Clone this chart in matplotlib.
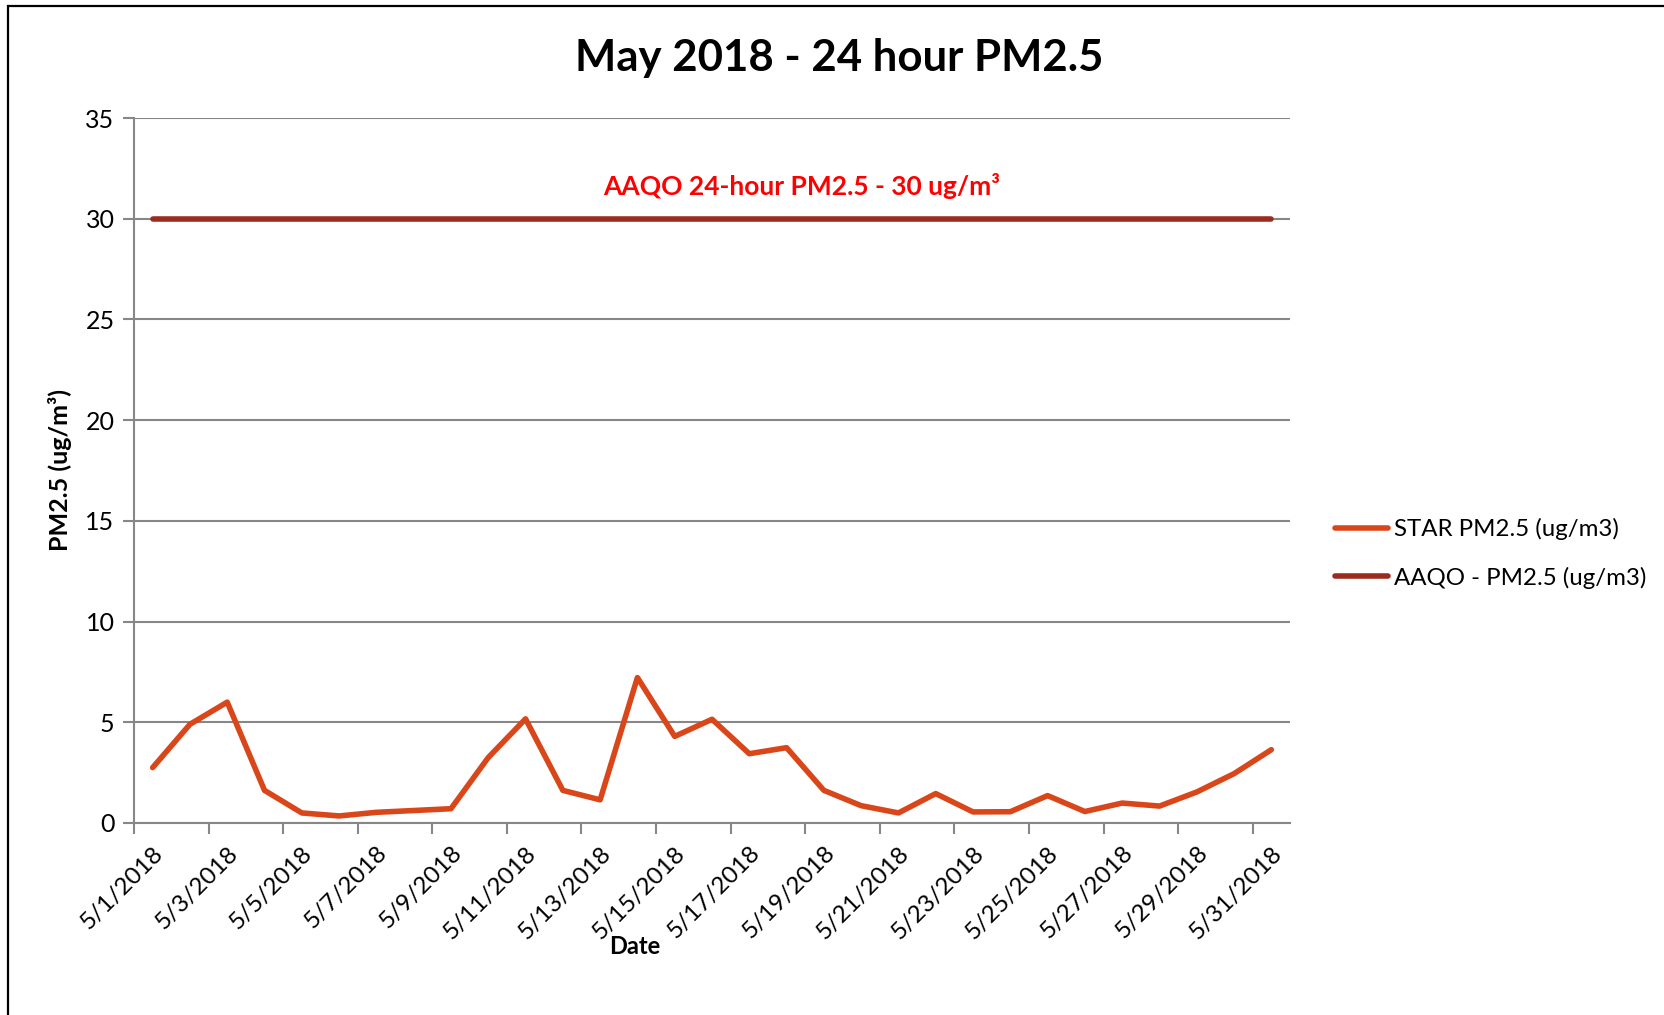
import matplotlib
matplotlib.use('Agg')
import matplotlib.pyplot as plt
from matplotlib.patches import Rectangle

plt.rcParams['font.family'] = ['Lato', 'DejaVu Sans']

# Données (mai 2018)
jours = [f'5/{d}/2018' for d in range(1, 32)]
star_pm25 = [2.75, 4.9, 6.0, 1.62, 0.5, 0.35, 0.53, 0.62, 0.71, 3.25, 5.17,
             1.62, 1.15, 7.22, 4.3, 5.15, 3.44, 3.74, 1.62, 0.86, 0.5, 1.46,
             0.55, 0.56, 1.36, 0.57, 0.99, 0.84, 1.54, 2.45, 3.64]
aaqo_pm25 = [30] * 31
y_ticks = [0, 5, 10, 15, 20, 25, 30, 35]

grid_col = '#878787'

fig = plt.figure(figsize=(16.65, 10.15), dpi=100)
ax = fig.add_axes([134 / 1665, 1 - 823 / 1015, (1290 - 134) / 1665, (823 - 118) / 1015])

x = list(range(len(jours)))
ax.plot(x, star_pm25, color='#D9461A', lw=4, solid_joinstyle='round',
        solid_capstyle='round', label='STAR PM2.5 (ug/m3)', zorder=3)
ax.plot(x, aaqo_pm25, color='#9B2B1F', lw=4, solid_capstyle='round',
        label='AAQO - PM2.5 (ug/m3)', zorder=3)

ax.set_xlim(-0.5, 30.5)
ax.set_ylim(0, 35)
ax.set_yticks(y_ticks)
ax.yaxis.grid(True, color=grid_col, lw=1.5)
ax.set_axisbelow(True)

# ticks aux limites de catégories, étiquettes au centre
ax.set_xticks([i - 0.5 for i in range(0, 31, 2)])
ax.set_xticklabels([])
ax.set_xticks(x[::2], minor=True)
ax.set_xticklabels(jours[::2], minor=True, rotation=45, ha='right',
                   va='top', rotation_mode='anchor', fontsize=17.5)
ax.tick_params(axis='x', which='minor', length=0, pad=14)
ax.tick_params(axis='x', which='major', length=8, width=1.5, color=grid_col)
ax.tick_params(axis='y', length=8, width=1.5, color=grid_col, labelsize=18, pad=6)

for s in ['top', 'right']:
    ax.spines[s].set_visible(False)
for s in ['left', 'bottom']:
    ax.spines[s].set_color(grid_col)
    ax.spines[s].set_linewidth(1.5)

fig.text(839 / 1665, 1 - 58 / 1015, 'May 2018 - 24 hour PM2.5', ha='center',
         va='center', fontsize=31.5, fontweight='bold')
fig.text(0.036, 1 - 470 / 1015, 'PM2.5 (ug/m³)', rotation=90, ha='center',
         va='center', fontsize=18, fontweight='bold')
fig.text(635 / 1665, 1 - 947 / 1015, 'Date', ha='center', va='center',
         fontsize=17, fontweight='bold')

fig.text(802 / 1665, 1 - 186 / 1015, 'AAQO 24-hour PM2.5 - 30 ug/m³', color='#FF0000',
         ha='center', va='center', fontsize=19, fontweight='bold')

leg = ax.legend(loc='center left', bbox_to_anchor=(1335 / 1665, 1 - 553.5 / 1015),
                bbox_transform=fig.transFigure, frameon=False, fontsize=17.3,
                handlelength=2.2, handletextpad=0.25, labelspacing=1.1,
                borderpad=0, borderaxespad=0)

fig.patches.append(Rectangle((8 / 1665, -0.1), 1.2, 1 - 6 / 1015 + 0.1,
                             transform=fig.transFigure, fill=False,
                             edgecolor='black', lw=1.6))

fig.savefig('out.png', dpi=100)
